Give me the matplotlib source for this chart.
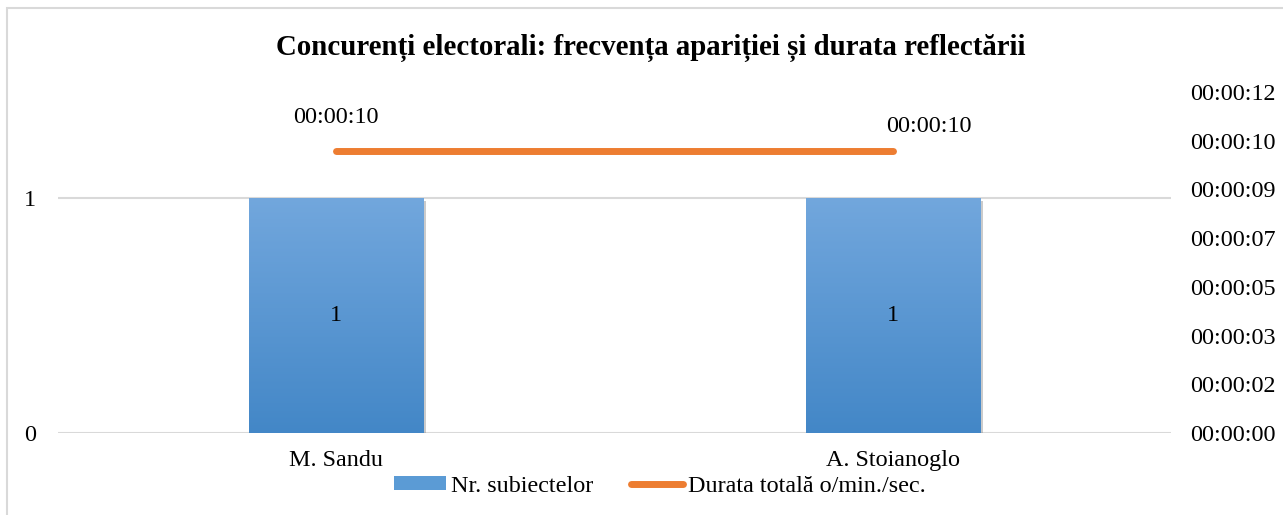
import matplotlib
matplotlib.use("Agg")
import matplotlib.pyplot as plt
import matplotlib.patheffects as pe
from matplotlib.patches import Rectangle
from matplotlib.ticker import FixedLocator, FuncFormatter
from matplotlib.lines import Line2D
import numpy as np

plt.rcParams['font.family'] = ['Liberation Serif', 'DejaVu Serif']

candidates = ["M. Sandu", "A. Stoianoglo"]
subjects = [1, 1]
duration_sec = [10, 10]

title = "Concurenți electorali: frecvența apariției și durata reflectării"
bar_name = "Nr. subiectelor"
line_name = "Durata totală o/min./sec."

BLUE_TOP = "#72A7DD"
BLUE_BOT = "#4387C7"
ORANGE = "#ED7D31"
GRID = "#D9D9D9"
FS = 17.4

def hms(v, pos=None):
    s = int(round(v * 86400))
    return "%02d:%02d:%02d" % (s // 3600, (s % 3600) // 60, s % 60)

fig = plt.figure(figsize=(12.83, 5.15), dpi=100)
fig.patches.append(Rectangle((7 / 1283, -0.1), 1.2, 1.1 - 8 / 515,
                             transform=fig.transFigure, fill=False,
                             edgecolor=GRID, lw=1.5))

ax = fig.add_axes([58 / 1283, 1 - 433 / 515, (1171 - 58) / 1283, (433 - 92) / 515])
x = np.arange(len(candidates))
ax.set_xlim(-0.5, len(candidates) - 0.5)
ax.set_ylim(0, 1.451)
ax.set_yticks([0, 1])
ax.yaxis.grid(True, color=GRID, lw=1.5)
ax.set_axisbelow(True)
for s in ax.spines.values():
    s.set_visible(False)
ax.tick_params(length=0, labelsize=FS, pad=16)
ax.tick_params(axis='x', pad=12)
ax.set_xticks(x)
ax.set_xticklabels(candidates)

grad = np.linspace(0, 1, 256).reshape(-1, 1)
cmap = matplotlib.colors.LinearSegmentedColormap.from_list("b", [BLUE_BOT, BLUE_TOP])
bars = ax.bar(x, subjects, width=0.313, color=BLUE_BOT, zorder=2,
              path_effects=[pe.SimplePatchShadow(offset=(2, -2), shadow_rgbFace="#7f7f7f", alpha=0.4),
                            pe.Normal()])
for b, v in zip(bars, subjects):
    x0, w, h = b.get_x(), b.get_width(), b.get_height()
    im = ax.imshow(grad, cmap=cmap, origin='lower', aspect='auto',
                   extent=(x0, x0 + w, 0, h), zorder=3)
    im.set_clip_path(b)
    ax.text(x0 + w / 2, h / 2, str(v), ha='center', va='center', fontsize=FS, zorder=4)

ax2 = ax.twinx()
dur_days = [d / 86400 for d in duration_sec]
ax2.set_ylim(0, 0.00014)
ax2.yaxis.set_major_locator(FixedLocator(np.arange(0, 0.000141, 0.00002)))
ax2.yaxis.set_major_formatter(FuncFormatter(hms))
ax2.tick_params(length=0, labelsize=FS, pad=13.5)
for s in ax2.spines.values():
    s.set_visible(False)
ax2.plot(x, dur_days, color=ORANGE, lw=5, solid_capstyle='round', zorder=5)
offsets = [(0, 34), (36, 25)]
for xi, d, off in zip(x, dur_days, offsets):
    ax2.annotate(hms(d), (xi, d), xytext=off, textcoords='offset pixels',
                 ha='center', va='center', fontsize=FS)

fig.text(651 / 1283, 1 - 48 / 515, title, ha='center', va='center',
         fontsize=20.8, fontweight='bold')

handles = [Rectangle((0, 0), 1, 1, facecolor="#5B9BD5"),
           Line2D([], [], color=ORANGE, lw=5, solid_capstyle='round')]
fig.legend(handles, [bar_name, line_name], loc='center',
           bbox_to_anchor=(660 / 1283, 1 - 486 / 515), ncol=2, frameon=False,
           fontsize=FS, handlelength=2.15, handleheight=0.55, handletextpad=0.2,
           columnspacing=1.55)

fig.savefig("out.png", dpi=100)
